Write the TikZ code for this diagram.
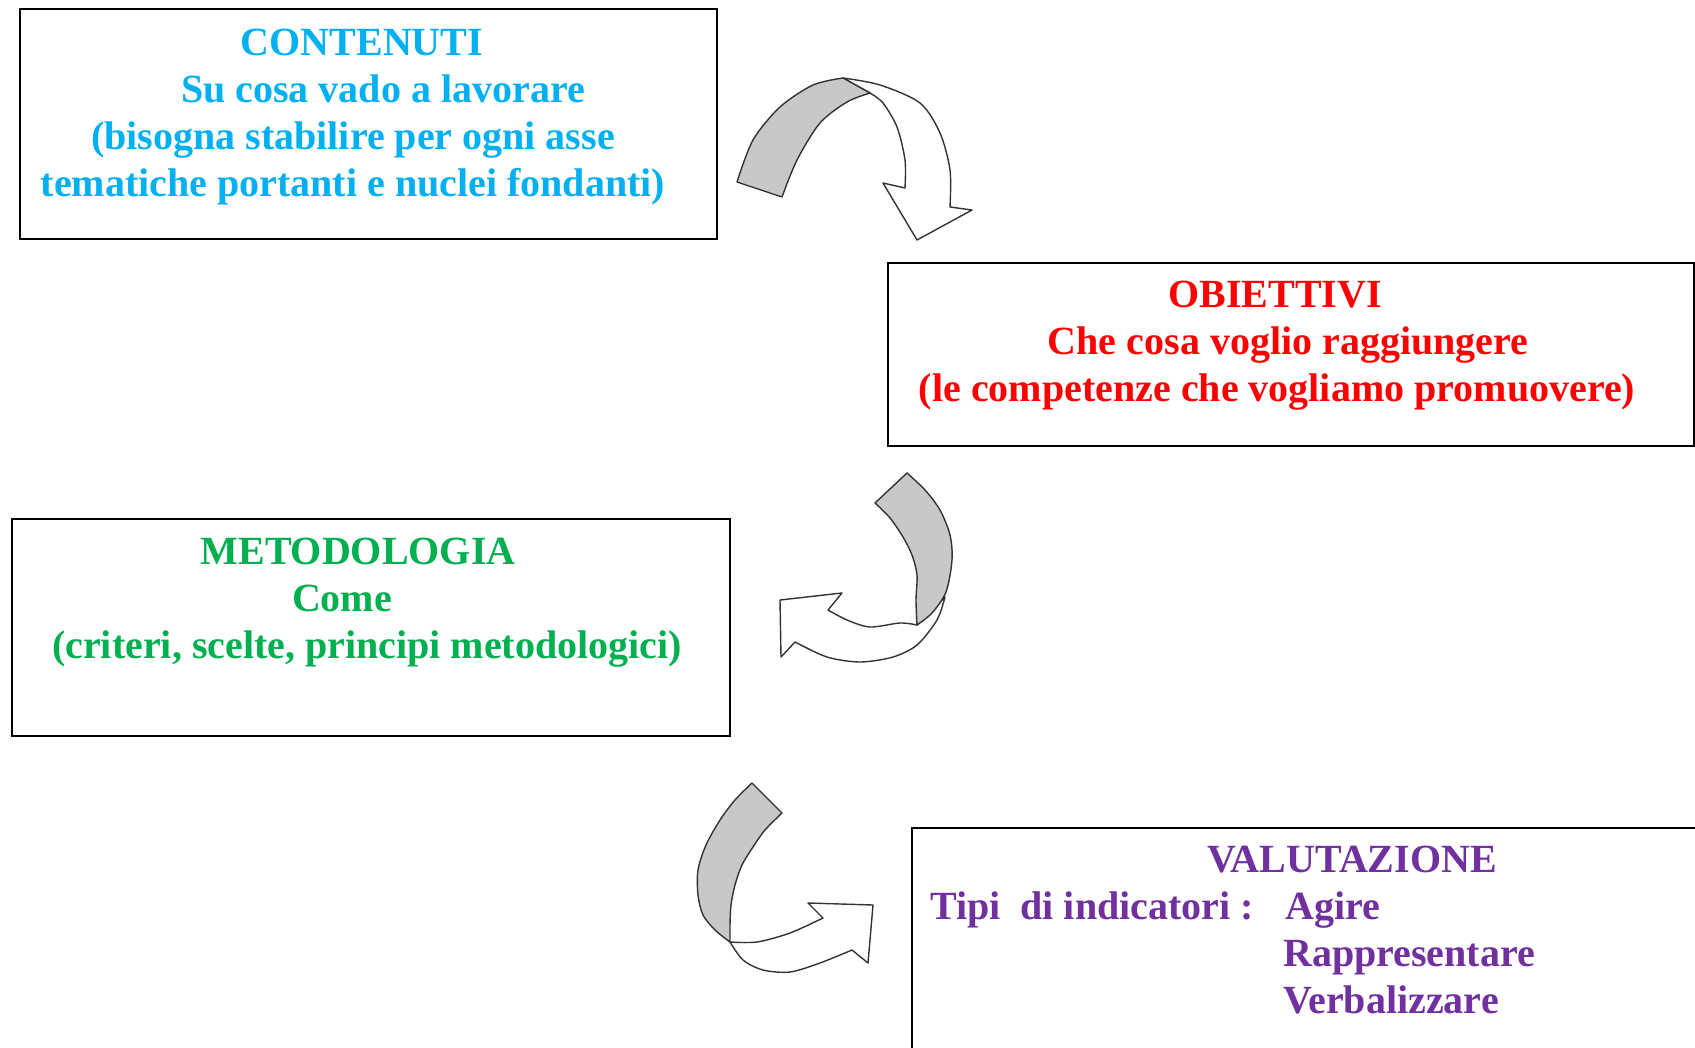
\documentclass[tikz,border=0pt]{standalone}
\usepackage{fontspec}
\setmainfont{Liberation Serif}
\definecolor{cblue}{RGB}{0,176,240}
\definecolor{cred}{RGB}{255,0,0}
\definecolor{cgreen}{RGB}{0,176,80}
\definecolor{cpurple}{RGB}{112,48,160}
\definecolor{bandgray}{RGB}{200,200,200}
\begin{document}
\begin{tikzpicture}[x=1pt,y=-1pt,
  box/.style={draw=black,line width=2pt,inner sep=0pt,anchor=north west},
  txt/.style={font=\fontsize{40}{47}\selectfont\bfseries,anchor=base,inner sep=0pt},
  band/.style={fill=bandgray,draw=black!80,line width=1.4pt,line join=round},
  head/.style={fill=white,draw=black!80,line width=1.4pt,line join=round}]
\useasboundingbox (0,0) rectangle (1695,1048);
\fill[white] (0,0) rectangle (1695,1048);
\clip (0,0) rectangle (1695,1048);

% boxes
\node[box,minimum width=697pt,minimum height=230pt] (b1) at (19,8) {};
\node[box,minimum width=806pt,minimum height=183pt] (b2) at (887,262) {};
\node[box,minimum width=718pt,minimum height=217pt] (b3) at (11,518) {};
\node[box,minimum width=800pt,minimum height=240pt] (b4) at (911,827) {};

% texts box 1
\node[txt,text=cblue] (t1a) at (362,56) {CONTENUTI};
\node[txt,text=cblue] (t1b) at (383,103) {Su cosa vado a lavorare};
\node[txt,text=cblue] (t1c) at (353,150) {(bisogna stabilire per ogni asse};
\node[txt,text=cblue] (t1d) at (353,197) {tematiche portanti e nuclei fondanti)};
% texts box 2
\node[txt,text=cred] (t2a) at (1275,308) {OBIETTIVI};
\node[txt,text=cred] (t2b) at (1288,355) {Che cosa voglio raggiungere};
\node[txt,text=cred] (t2c) at (1277,402) {(le competenze che vogliamo promuovere)};
% texts box 3
\node[txt,text=cgreen] (t3a) at (358,564) {METODOLOGIA};
\node[txt,text=cgreen] (t3b) at (342,611) {Come};
\node[txt,text=cgreen] (t3c) at (367,658) {(criteri, scelte, principi metodologici)};
% texts box 4
\node[txt,text=cpurple] (t4a) at (1352,872) {VALUTAZIONE};
\node[txt,text=cpurple,anchor=base west] (t4b) at (930,919) {Tipi\ \ di indicatori :};
\node[txt,text=cpurple,anchor=base west] (t4c) at (1285,919) {Agire};
\node[txt,text=cpurple,anchor=base west] (t4d) at (1283,966) {Rappresentare};
\node[txt,text=cpurple,anchor=base west] (t4e) at (1283,1013) {Verbalizzare};

% arrow 1 (top)
\draw[head] plot[smooth] coordinates {(843,78) (880,85) (920,103) (940,133) (950,170) (950,207)}
  -- (972,210) -- (917,240) -- (883,183) -- (905,188)
  -- plot[smooth] coordinates {(905,188) (905,160) (897,127) (883,103) (870,93)} -- cycle;
\draw[band] plot[smooth] coordinates {(737,182) (753,140) (780,107) (813,85) (843,78)}
  -- (870,93)
  -- plot[smooth] coordinates {(870,93) (847,102) (820,123) (797,160) (782,197)} -- cycle;

% arrow 2 (middle)
\draw[head] plot[smooth] coordinates {(917,625) (900,623) (870,627) (847,620) (828,610)}
  -- (842,593) -- (780,600) -- (781,657) -- (795,642)
  -- plot[smooth] coordinates {(795,642) (827,657) (860,662) (893,657) (917,645) (937,620) (945,597)} -- cycle;
\draw[band] plot[smooth] coordinates {(907,473) (925,490) (940,510) (950,535) (952,560) (946,592) (932,613) (917,625)}
  -- plot[smooth] coordinates {(917,625) (916,600) (917,575) (912,555) (903,537) (890,518) (875,503)} -- cycle;

% arrow 3 (bottom)
\draw[head] plot[smooth] coordinates {(730,942) (757,942) (790,933) (823,918)}
  -- (808,903) -- (873,905) -- (868,963) -- (852,950)
  -- plot[smooth] coordinates {(852,950) (820,963) (790,972) (763,970) (743,960) (730,942)} -- cycle;
\draw[band] plot[smooth] coordinates {(752,783) (735,800) (720,820) (706,845) (698,870) (698,895) (703,915) (715,930) (730,942)}
  -- plot[smooth] coordinates {(730,942) (730,925) (731,905) (735,885) (742,865) (753,847) (765,830) (782,813)} -- cycle;
\end{tikzpicture}
\end{document}
